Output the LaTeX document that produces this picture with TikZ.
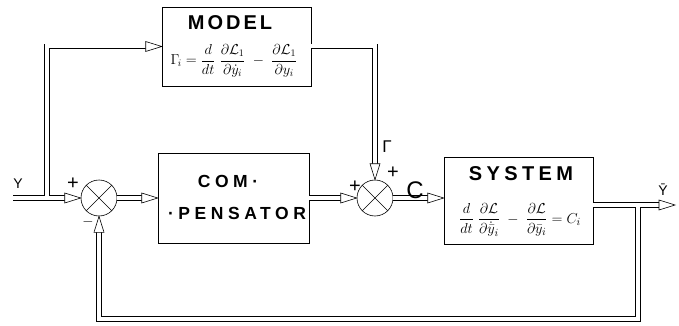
\documentclass[tikz,border=0pt]{standalone}
\usepackage{fontspec}
\setmainfont{Liberation Sans}
\usetikzlibrary{calc}
\begin{document}
\begin{tikzpicture}[x=1pt,y=1pt,
  box/.style={draw, line width=0.6pt, rectangle, inner sep=0pt},
  sumnode/.style={draw, circle, line width=0.6pt, minimum size=36pt, inner sep=0pt,
    path picture={\draw[line width=0.6pt] (path picture bounding box.north west) -- (path picture bounding box.south east)
      (path picture bounding box.north east) -- (path picture bounding box.south west);}},
  dbl/.style={line width=0.6pt, double, double distance=4pt},
  title/.style={font=\fontsize{20}{22}\selectfont\bfseries\addfontfeature{LetterSpace=#1}},
  sign/.style={font=\fontsize{20}{22}\selectfont, inner sep=0pt},
  small/.style={font=\fontsize{14}{16}\selectfont, inner sep=0pt},
  eq/.style={font=\fontsize{#1}{16}\selectfont, inner sep=0pt},
  pics/tip/.style={code={\draw[line width=0.6pt, fill=white] (-16pt,5pt) -- (0pt,0pt) -- (-16pt,-5pt) -- cycle;}}
]
\useasboundingbox (0,0) rectangle (679,-326);

% blocks
\node[box, minimum width=149pt, minimum height=79pt] (model) at (236.5,-46.5) {};
\node[box, minimum width=151pt, minimum height=90pt] (comp) at (233.5,-198) {};
\node[box, minimum width=149pt, minimum height=87pt] (sys) at (518.5,-200.5) {};
\node[sumnode] (s1) at (99,-198) {};
\node[sumnode] (s2) at (375,-198) {};

% block texts
\node[title=15] (modeltxt) at (230,-22.5) {MODEL};
\node[eq=14] (modeleq) at (234,-61) {$\displaystyle \Gamma_{\!i} = \frac{d}{dt}\;\frac{\partial\mathcal{L}_1}{\partial\dot y_i} \;-\; \frac{\partial\mathcal{L}_1}{\partial y_i}$};
\node[title=22] (systxt) at (521,-174) {SYSTEM};
\node[eq=15] (syseq) at (520,-220) {$\displaystyle \frac{d}{dt}\;\frac{\partial\mathcal{L}}{\partial\dot{\bar y}_i} \;-\; \frac{\partial\mathcal{L}}{\partial\bar y_i} = C_i$};
\node[font=\fontsize{17.5}{20}\selectfont\bfseries\addfontfeature{LetterSpace=26}] (comptxt1) at (228,-181) {COM·};
\node[font=\fontsize{17.5}{20}\selectfont\bfseries\addfontfeature{LetterSpace=26}] (comptxt2) at (237,-213) {·PENSATOR};

% coordinates for free ends and junctions
\coordinate (in) at (13,-198);
\coordinate (j1) at (47,-198);
\coordinate (o1) at ($(sys.east)+(0,-4.5)$);
\coordinate (j2) at (638,-205);
\coordinate (out) at (675,-205);
\coordinate (fb) at (638,-319);

% connectors
\draw[dbl] (in) -- (j1) |- ($(model.west)+(-16,0)$);
\pic at (model.west) {tip};
\draw[dbl] ($(j1)+(2,0)$) -- ($(s1.west)+(-16,0)$);
\pic at (s1.west) {tip};
\draw[dbl] (s1.east) -- ($(comp.west |- s1.east)+(-16,0)$);
\pic at (comp.west |- s1.east) {tip};
\draw[dbl] (comp.east |- s2.west) -- ($(s2.west)+(-16,0)$);
\pic at (s2.west) {tip};
\draw[dbl] (s2.east) -- ($(sys.west |- s2.east)+(-16,0)$);
\pic at (sys.west |- s2.east) {tip};
\draw[dbl] (model.east) -| ($(s2.north)+(0,16)$);
\pic[rotate=-90] at (s2.north) {tip};
\draw[dbl] (o1) -- ($(out)+(-16,0)$);
\pic at (out) {tip};
\draw[dbl] ($(j2)+(0,-2)$) -- (fb) -| ($(s1.south)+(0,-16)$);
\pic[rotate=90] at (s1.south) {tip};

% labels
\node[small] (ylbl) at (18,-184) {Y};
\node[sign] (p1) at (73,-184) {+};
\node[small] (m1) at (88,-222) {$-$};
\node[sign] (p2) at (355,-187) {+};
\node[sign] (p3) at (393,-173) {+};
\node[font=\fontsize{17}{19}\selectfont, inner sep=0pt] (gam) at (387,-147) {Γ};
\node[font=\fontsize{24}{26}\selectfont, inner sep=0pt] (clbl) at (415,-190) {C};
\node[small] (ybar) at (663,-190) {\={Y}};
\end{tikzpicture}
\end{document}
